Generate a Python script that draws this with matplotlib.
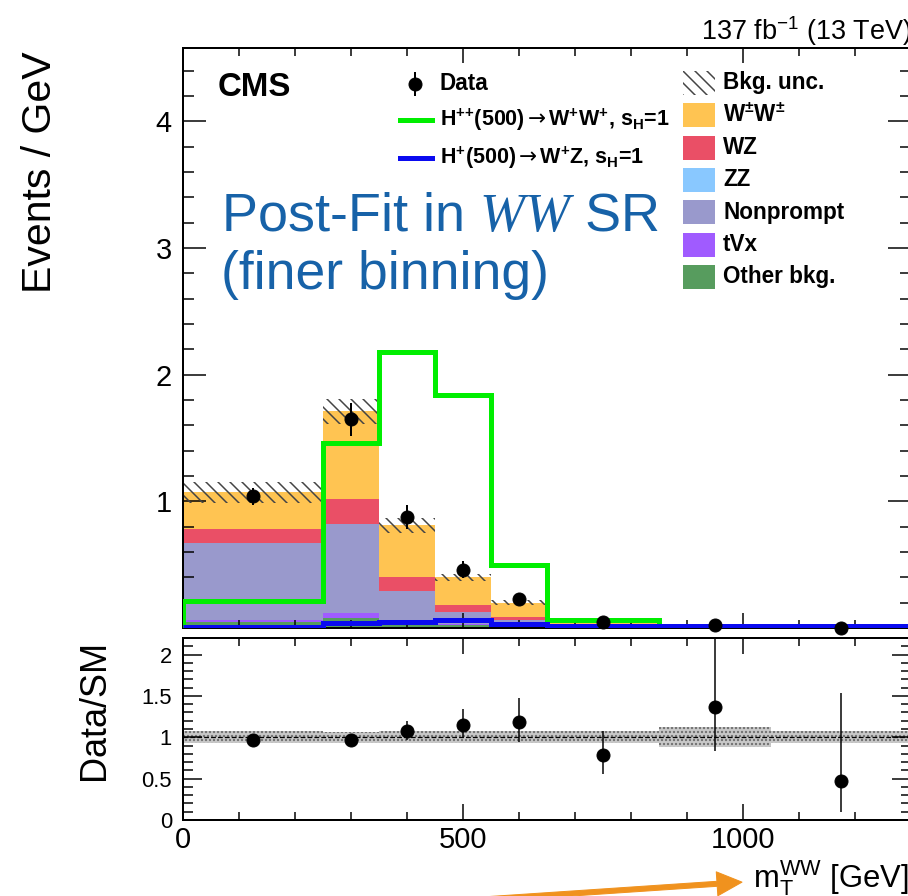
import matplotlib
matplotlib.use('Agg')
import matplotlib.pyplot as plt
import numpy as np
from matplotlib.patches import Rectangle, FancyArrowPatch
from matplotlib.lines import Line2D
from matplotlib.ticker import MultipleLocator, FixedLocator, FuncFormatter
from matplotlib.transforms import IdentityTransform

# Styling parameters (dpi 72 so that point sizes read as pixels)
plt.rcParams['font.family'] = ['Liberation Sans', 'DejaVu Sans']
plt.rcParams['mathtext.fontset'] = 'custom'
plt.rcParams['mathtext.default'] = 'regular'
plt.rcParams['mathtext.it'] = 'Liberation Serif:italic'
plt.rcParams['mathtext.sf'] = 'DejaVu Sans'
plt.rcParams['hatch.linewidth'] = 1.5
plt.rcParams['axes.linewidth'] = 2.0

# ---------------------------------------------------------------
# Post-fit yields per bin (events / GeV), m_T^WW binning
# ---------------------------------------------------------------
bin_edges = [0, 250, 350, 450, 550, 650, 850, 1050, 1300]

other_bkg = [0.045, 0.080, 0.030, 0.020, 0.010, 0.008, 0.003, 0.001]
tvx       = [0.015, 0.035, 0.015, 0.010, 0.010, 0.005, 0.002, 0.001]
zz        = [0.003, 0.005, 0.005, 0.005, 0.003, 0.002, 0.001, 0.0005]
nonprompt = [0.607, 0.700, 0.240, 0.090, 0.037, 0.010, 0.003, 0.001]
wz        = [0.110, 0.200, 0.115, 0.055, 0.027, 0.010, 0.002, 0.001]
wpmwpm    = [0.290, 0.690, 0.405, 0.220, 0.113, 0.030, 0.0065, 0.0035]
bkg_unc   = [0.080, 0.100, 0.060, 0.030, 0.020, 0.006, 0.002, 0.001]

data      = [1.04, 1.65, 0.88, 0.46, 0.23, 0.051, 0.024, 0.0038]
data_err  = [0.065, 0.13, 0.095, 0.068, 0.048, 0.016, 0.020, 0.008]

hpp_ww    = [0.21, 1.46, 2.18, 1.84, 0.50, 0.063, 0.0, 0.0]
hp_wz     = [0.010, 0.040, 0.045, 0.065, 0.030, 0.015, 0.015, 0.012]

ratio        = [0.97, 0.97, 1.08, 1.15, 1.18, 0.78, 1.37, 0.47]
ratio_err_lo = [0.05, 0.05, 0.11, 0.16, 0.24, 0.22, 0.54, 0.37]
ratio_err_hi = [0.05, 0.05, 0.12, 0.19, 0.29, 0.29, 1.00, 1.06]
ratio_band   = [0.075, 0.065, 0.07, 0.075, 0.07, 0.07, 0.12, 0.075]

# stacking order, bottom to top
components = [other_bkg, tvx, zz, nonprompt, wz, wpmwpm]
comp_colors = ['#579c5e', '#a05bff', '#89c8ff', '#9999cc', '#ea4f66', '#ffc452']

# legend (top to bottom)
right_labels = ['Bkg. unc.', r'W$^{\pm}$W$^{\pm}$', 'WZ', 'ZZ', 'Nonprompt', 'tVx', 'Other bkg.']
right_colors = [None, '#ffc452', '#ea4f66', '#89c8ff', '#9999cc', '#a05bff', '#579c5e']

edges = np.array(bin_edges, dtype=float)
centers = 0.5 * (edges[1:] + edges[:-1])

W, H = 908, 896
fig = plt.figure(figsize=(W / 72, H / 72), dpi=72)

def ax_rect(left, top, right, bottom):
    return [left / W, 1 - bottom / H, (right - left) / W, (bottom - top) / H]

ax = fig.add_axes(ax_rect(183, 48, 911, 628))
axr = fig.add_axes(ax_rect(183, 638, 911, 820), sharex=ax)

# stacked backgrounds
base = np.zeros(len(centers))
for vals, col in zip(components, comp_colors):
    top = base + np.array(vals)
    ax.stairs(top, edges, baseline=base, fill=True, color=col, lw=0, zorder=1)
    base = top
total = base

# background uncertainty
unc = np.array(bkg_unc)
ax.stairs(total + unc, edges, baseline=total - unc, fill=True, facecolor='none',
          edgecolor='#444444', hatch='\\\\', lw=0, zorder=2)

# signals
ax.stairs(hpp_ww, edges, baseline=0, color='#00ee00', lw=5, zorder=3)
ax.stairs(hp_wz, edges, baseline=None, color='#0a0af0', lw=5, zorder=3)

# data
ax.errorbar(centers, data, yerr=data_err, fmt='o', color='k', ms=13,
            elinewidth=2, capsize=0, zorder=5, clip_on=False)

ax.set_xlim(0, 1300)
ax.set_ylim(0, 4.58)
ax.yaxis.set_major_locator(FixedLocator([1, 2, 3, 4]))
ax.yaxis.set_minor_locator(MultipleLocator(0.2))
ax.xaxis.set_major_locator(MultipleLocator(500))
ax.xaxis.set_minor_locator(MultipleLocator(100))
ax.tick_params(axis='both', which='both', direction='in', top=True, right=True,
               width=1.5, labelsize=29, pad=11)
ax.tick_params(axis='y', which='major', length=23)
ax.tick_params(axis='y', which='minor', length=11)
ax.tick_params(axis='x', which='major', length=15, labelbottom=False)
ax.tick_params(axis='x', which='minor', length=8)
ax.set_ylabel('Events / GeV', fontsize=41, loc='top')
ax.yaxis.set_label_coords(-0.17, 0.995)

# ratio panel
rb = np.array(ratio_band)
axr.stairs(1 + rb, edges, baseline=1 - rb, fill=True, facecolor='#c9c9c9',
           edgecolor='#6a6a6a', hatch='...', lw=0, zorder=1)
axr.axhline(1, color='k', ls='--', lw=1.3, zorder=2)
axr.errorbar(centers, ratio, yerr=[ratio_err_lo, ratio_err_hi], fmt='o', color='k',
             ms=13, elinewidth=1.5, capsize=0, zorder=5)
axr.set_ylim(0, 2.2)
axr.yaxis.set_major_locator(MultipleLocator(0.5))
axr.yaxis.set_minor_locator(MultipleLocator(0.1))
axr.yaxis.set_major_formatter(FuncFormatter(lambda v, p: f'{v:g}'))
axr.tick_params(axis='both', which='both', direction='in', top=True, right=True, width=1.5)
axr.tick_params(axis='y', which='major', length=19, labelsize=22, pad=11)
axr.tick_params(axis='y', which='minor', length=10)
axr.tick_params(axis='x', which='major', length=16, labelsize=29, pad=6)
axr.tick_params(axis='x', which='minor', length=8)
axr.set_ylabel('Data/SM', fontsize=36, loc='top')
axr.yaxis.set_label_coords(-0.097, 0.99)
axr.set_xlabel(r'm$_{T}^{WW}$ [GeV]', fontsize=31, loc='right')
axr.xaxis.set_label_coords(0.996, -0.32)
axr.xaxis.label.set_va('center')

# header texts
ax.text(0.048, 0.917, 'CMS', transform=ax.transAxes, fontsize=33,
        fontweight='bold', va='baseline')
ax.text(1.0, 1.0138, r'137 fb$^{-1}$ (13 TeV)', transform=ax.transAxes,
        fontsize=27, ha='right', va='baseline')
ax.text(0.052, 0.685, r'Post-Fit in $\mathit{WW}$ SR', transform=ax.transAxes,
        fontsize=54, color='#1762a8', va='baseline')
ax.text(0.052, 0.585, '(finer binning)', transform=ax.transAxes,
        fontsize=53.5, color='#1762a8', va='baseline')

# legend, left column
def yax(ypix):
    return (628 - ypix) / 580

leg_font = dict(fontsize=22.5, fontweight='bold', va='center', transform=ax.transAxes)
sig_font = dict(leg_font, fontsize=21.5)
ax.add_line(Line2D([0.3187], [yax(84)], marker='o', ms=13, color='k',
                   transform=ax.transAxes, clip_on=False))
ax.add_line(Line2D([0.3187, 0.3187], [yax(73), yax(95)], color='k', lw=2,
                   transform=ax.transAxes))
ax.text(0.353, yax(84), 'Data', **leg_font)
ax.add_line(Line2D([0.298, 0.342], [yax(120)] * 2, color='#00ee00', lw=5,
                   transform=ax.transAxes))
ax.text(0.353, yax(120), r'H$^{{+}{+}}$(500)$\mathsf{\rightarrow}$W$^{+}$W$^{+}$, s$_{H}$=1',
        **sig_font)
ax.add_line(Line2D([0.298, 0.342], [yax(158)] * 2, color='#0a0af0', lw=5,
                   transform=ax.transAxes))
ax.text(0.353, yax(158), r'H$^{+}$(500)$\mathsf{\rightarrow}$W$^{+}$Z, s$_{H}$=1', **sig_font)

# legend, right column
box_h = 24 / 580
for i, (lab, col) in enumerate(zip(right_labels, right_colors)):
    yc = yax(83 + 32.3 * i)
    if col is None:
        box = Rectangle((0.687, yc - box_h / 2), 0.044, box_h, transform=ax.transAxes,
                        facecolor='none', edgecolor='#444444', hatch='\\\\', lw=0)
    else:
        box = Rectangle((0.687, yc - box_h / 2), 0.044, box_h, transform=ax.transAxes,
                        facecolor=col, edgecolor='none')
    ax.add_patch(box)
    ax.text(0.742, yc, lab, **leg_font)

# pointer arrow under the axis title
fig.add_artist(FancyArrowPatch((430, H - 903), (744, H - 882), transform=IdentityTransform(),
                               arrowstyle='simple,head_length=25,head_width=24,tail_width=5',
                               color='#f0921e', mutation_scale=1))

fig.savefig('out.png', dpi=72)
